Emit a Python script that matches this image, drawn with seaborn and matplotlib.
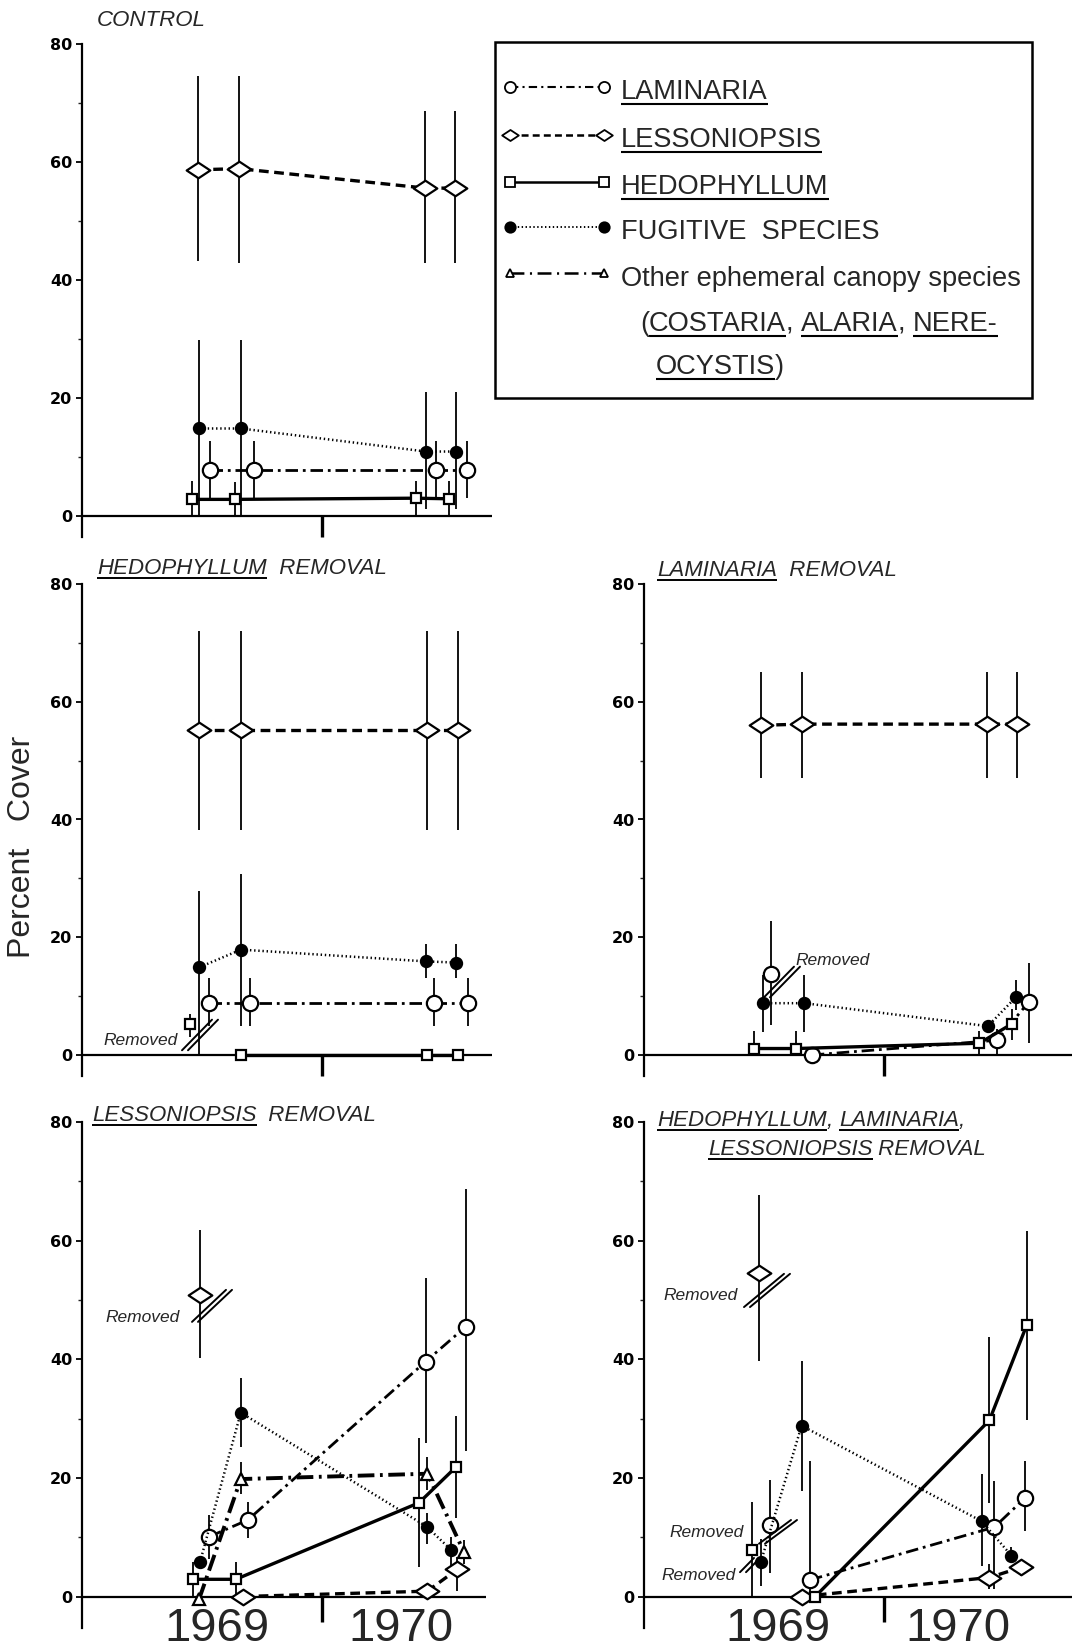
import matplotlib
matplotlib.use("Agg")
import matplotlib.pyplot as plt
from matplotlib.path import Path
from matplotlib.patches import Rectangle
import pandas as pd
import seaborn as sns

# ===================== DATA =====================
# x = months since 1 Jan 1969 (12 = 1 Jan 1970), y = percent cover
YEAR_LABELS = ["1969", "1970"]
YEAR_POS_LEFT = [6.75, 15.95]
YEAR_POS_RIGHT = [6.7, 15.7]
Y_TICKS = [0, 20, 40, 60, 80]
Y_MINOR = [10, 30, 50, 70]

# --- CONTROL ---
C_LAM_X = [6.42, 8.58, 17.72, 19.25]
C_LAM_Y = [7.9, 7.9, 7.9, 7.9]
C_LAM_LO = [3.2, 3.2, 3.2, 3.2]
C_LAM_HI = [12.7, 12.7, 12.7, 12.7]
C_LES_X = [5.80, 7.85, 17.17, 18.67]
C_LES_Y = [58.7, 58.9, 55.6, 55.6]
C_LES_LO = [43.2, 42.9, 43.0, 43.0]
C_LES_HI = [74.6, 74.6, 68.7, 68.7]
C_HED_X = [5.50, 7.63, 16.72, 18.33]
C_HED_Y = [2.9, 2.9, 3.1, 3.0]
C_HED_LO = [0.0, 0.0, 0.0, 0.0]
C_HED_HI = [6.0, 5.8, 6.0, 6.0]
C_FUG_X = [5.87, 7.95, 17.20, 18.70]
C_FUG_Y = [14.9, 14.9, 11.0, 11.0]
C_FUG_LO = [0.0, 0.0, 1.3, 1.2]
C_FUG_HI = [29.8, 29.8, 21.0, 21.0]

# --- HEDOPHYLLUM REMOVAL ---
HR_LES_X = [5.87, 7.95, 17.25, 18.78]
HR_LES_Y = [55.2, 55.2, 55.2, 55.2]
HR_LES_LO = [38.2, 38.2, 38.2, 38.2]
HR_LES_HI = [72.0, 72.0, 72.0, 72.0]
HR_FUG_X = [5.87, 7.95, 17.20, 18.70]
HR_FUG_Y = [14.9, 17.9, 15.9, 15.7]
HR_FUG_LO = [0.0, 4.9, 13.1, 13.1]
HR_FUG_HI = [27.8, 30.8, 18.8, 18.8]
HR_LAM_X = [6.37, 8.42, 17.58, 19.28]
HR_LAM_Y = [8.8, 8.8, 8.8, 8.8]
HR_LAM_LO = [4.9, 4.9, 4.9, 4.9]
HR_LAM_HI = [13.0, 13.0, 13.0, 13.0]
HR_HED_REM_X = [5.42]
HR_HED_REM_Y = [5.2]
HR_HED_REM_LO = [3.0]
HR_HED_REM_HI = [7.0]
HR_HED_X = [7.95, 17.25, 18.78]
HR_HED_Y = [0.0, 0.0, 0.0]

# --- LAMINARIA REMOVAL ---
LR_LES_X = [5.85, 7.92, 17.16, 18.67]
LR_LES_Y = [56.0, 56.2, 56.2, 56.2]
LR_LES_LO = [47.1, 47.1, 47.1, 47.1]
LR_LES_HI = [65.1, 65.1, 65.1, 65.1]
LR_FUG_X = [5.93, 8.02, 17.19, 18.59]
LR_FUG_Y = [8.8, 8.8, 4.9, 9.8]
LR_FUG_LO = [3.9, 3.9, 4.9, 7.7]
LR_FUG_HI = [13.6, 13.6, 4.9, 12.7]
LR_LAM_REM_X = [6.37]
LR_LAM_REM_Y = [13.8]
LR_LAM_REM_LO = [5.1]
LR_LAM_REM_HI = [22.7]
LR_LAM_X = [8.39, 17.64, 19.24]
LR_LAM_Y = [0.0, 2.5, 9.0]
LR_LAM_LO = [0.0, 0.0, 2.0]
LR_LAM_HI = [0.0, 4.5, 15.6]
LR_HED_X = [5.51, 7.58, 16.77, 18.40]
LR_HED_Y = [1.1, 1.1, 2.0, 5.3]
LR_HED_LO = [0.0, 0.0, 0.0, 2.5]
LR_HED_HI = [4.0, 4.0, 4.0, 7.8]

# --- LESSONIOPSIS REMOVAL ---
SR_LES_REM_X = [5.90]
SR_LES_REM_Y = [50.9]
SR_LES_REM_LO = [40.2]
SR_LES_REM_HI = [61.8]
SR_LES_X = [8.07, 17.27, 18.77]
SR_LES_Y = [0.0, 0.9, 4.6]
SR_LES_LO = [0.0, 0.0, 0.9]
SR_LES_HI = [0.0, 2.0, 6.7]
SR_FUG_X = [5.90, 7.94, 17.23, 18.44]
SR_FUG_Y = [5.8, 31.0, 11.8, 7.9]
SR_FUG_LO = [5.8, 25.2, 8.9, 5.0]
SR_FUG_HI = [5.8, 36.8, 14.0, 10.0]
SR_LAM_X = [6.37, 8.29, 17.18, 19.19]
SR_LAM_Y = [10.1, 12.9, 39.6, 45.5]
SR_LAM_LO = [6.4, 9.8, 25.8, 24.5]
SR_LAM_HI = [13.8, 16.0, 53.7, 68.7]
SR_HED_X = [5.53, 7.69, 16.85, 18.69]
SR_HED_Y = [2.9, 2.9, 15.8, 21.8]
SR_HED_LO = [0.0, 0.0, 4.9, 13.2]
SR_HED_HI = [5.8, 5.8, 26.7, 30.4]
SR_EPH_X = [5.85, 7.94, 17.27, 19.10]
SR_EPH_Y = [-0.5, 19.8, 20.7, 7.5]
SR_EPH_LO = [-0.5, 17.2, 18.0, 5.5]
SR_EPH_HI = [-0.5, 22.7, 23.6, 9.5]

# --- HEDOPHYLLUM, LAMINARIA, LESSONIOPSIS REMOVAL ---
AR_LES_REM_X = [5.77]
AR_LES_REM_Y = [54.5]
AR_LES_REM_LO = [39.7]
AR_LES_REM_HI = [67.7]
AR_LES_X = [7.88, 17.27, 18.85]
AR_LES_Y = [0.0, 3.2, 4.9]
AR_LES_LO = [0.0, 1.2, 3.4]
AR_LES_HI = [0.0, 5.5, 5.8]
AR_FUG_X = [5.84, 7.88, 16.88, 18.37]
AR_FUG_Y = [5.8, 28.8, 12.7, 6.9]
AR_FUG_LO = [1.8, 17.8, 5.2, 5.8]
AR_FUG_HI = [9.7, 39.7, 20.7, 8.3]
AR_LAM_REM_X = [6.28]
AR_LAM_REM_Y = [12.0]
AR_LAM_REM_LO = [4.0]
AR_LAM_REM_HI = [19.7]
AR_LAM_X = [8.30, 17.52, 19.05]
AR_LAM_Y = [2.8, 11.7, 16.6]
AR_LAM_LO = [0.0, 1.2, 11.1]
AR_LAM_HI = [22.9, 19.4, 22.8]
AR_HED_REM_X = [5.38]
AR_HED_REM_Y = [7.9]
AR_HED_REM_LO = [0.0]
AR_HED_REM_HI = [15.9]
AR_HED_X = [8.56, 17.27, 19.13]
AR_HED_Y = [0.0, 29.7, 45.7]
AR_HED_LO = [0.0, 15.7, 29.8]
AR_HED_HI = [0.0, 43.7, 61.7]

LEGEND_LABELS = ["LAMINARIA", "LESSONIOPSIS", "HEDOPHYLLUM", "FUGITIVE  SPECIES",
                 "Other ephemeral canopy species"]

# ===================== STYLE =====================
sns.set_theme(style="white")
plt.rcParams["lines.scale_dashes"] = False
plt.rcParams["font.family"] = ["Liberation Sans", "DejaVu Sans"]

W, H = 1073, 1651
fig = plt.figure(figsize=(W / 100, H / 100), dpi=100)
renderer = fig.canvas.get_renderer()

DIAMOND = Path([(-1, 0), (0, 0.66), (1, 0), (0, -0.66), (-1, 0)],
               [Path.MOVETO, Path.LINETO, Path.LINETO, Path.LINETO, Path.CLOSEPOLY])

STY = {
    "LAM": dict(marker="o", ms=11, mfc="white", ls=(0, (9, 3.5, 2, 3.5)), lw=2.0),
    "LES": dict(marker=DIAMOND, ms=17, mfc="white", ls=(0, (7, 4)), lw=2.4),
    "HED": dict(marker="s", ms=7.5, mfc="white", ls="-", lw=2.4),
    "FUG": dict(marker="o", ms=8, mfc="black", ls=(0, (1, 2)), lw=1.8),
    "EPH": dict(marker="^", ms=8.5, mfc="white", ls=(0, (12, 4, 2, 4)), lw=2.8),
}


def make_axes(left_px, top_px, zero_px, ybot, xend, div_bot, years=None):
    ppu = (zero_px - top_px) / 80.0
    bot_px = zero_px - ybot * ppu
    ax = fig.add_axes([left_px / W, (H - bot_px) / H, 428 / W, (bot_px - top_px) / H])
    ax.set_xlim(0, 21.4)
    ax.set_ylim(ybot, 80)
    ax.patch.set_alpha(0)
    for s in ["top", "right", "bottom"]:
        ax.spines[s].set_visible(False)
    ax.spines["left"].set_linewidth(1.6)
    ax.spines["left"].set_color("black")
    ax.set_xticks([])
    ax.set_yticks(Y_TICKS)
    ax.set_yticklabels([str(v) for v in Y_TICKS], fontweight="bold", fontsize=11.5,
                       family="DejaVu Sans")
    ax.set_yticks(Y_MINOR, minor=True)
    ax.tick_params(axis="y", which="major", direction="out", left=True, length=4.5,
                   width=1.3, pad=2.5, colors="black")
    ax.tick_params(axis="y", which="minor", direction="out", left=True, length=3,
                   width=1.0)
    ax.hlines(0, 0, xend, colors="black", lw=1.6, zorder=1.5, clip_on=False)
    ax.vlines(12, div_bot, 0, colors="black", lw=2.4, zorder=1.5, clip_on=False)
    if years is not None:
        yb = -(1641 - zero_px) / ppu
        for lab, xp in zip(YEAR_LABELS, years):
            ax.text(xp, yb, lab, ha="center", va="baseline", fontsize=34,
                    family="Liberation Sans", clip_on=False)
    return ax


def series(ax, key, x, y, lo=None, hi=None, line=True):
    if lo is not None:
        ax.vlines(x, lo, hi, colors="black", lw=1.3, zorder=2, clip_on=False)
    st = STY[key]
    df = pd.DataFrame({"month": x, "cover": y})
    sns.lineplot(data=df, x="month", y="cover", ax=ax, estimator=None, sort=False,
                 color="black", linestyle=st["ls"] if line else "none",
                 linewidth=st["lw"], marker=st["marker"], markersize=st["ms"],
                 markerfacecolor=st["mfc"], markeredgecolor="black",
                 markeredgewidth=1.6, zorder=3, clip_on=False)
    ax.set_xlabel("")
    ax.set_ylabel("")


def removed(ax, tx, ty, sx, sy, dx=0.75, dy=2.6, sep=0.3):
    if tx is not None:
        ax.text(tx, ty, "Removed", ha="center", va="center", fontsize=12.5,
                style="italic", family="Liberation Sans", clip_on=False)
    for off in (-sep / 2, sep / 2):
        ax.plot([sx - dx + off, sx + dx + off], [sy - dy, sy + dy], color="black",
                lw=1.4, zorder=4, clip_on=False)


# ---------- CONTROL ----------
ax1 = make_axes(82, 44, 516.5, -3.5, 20.5, -3.5)
series(ax1, "HED", C_HED_X, C_HED_Y, C_HED_LO, C_HED_HI)
series(ax1, "LAM", C_LAM_X, C_LAM_Y, C_LAM_LO, C_LAM_HI)
series(ax1, "FUG", C_FUG_X, C_FUG_Y, C_FUG_LO, C_FUG_HI)
series(ax1, "LES", C_LES_X, C_LES_Y, C_LES_LO, C_LES_HI)

# ---------- HEDOPHYLLUM REMOVAL ----------
ax2 = make_axes(82, 584, 1055, -3.5, 20.5, -3.5)
series(ax2, "HED", HR_HED_X, HR_HED_Y)
series(ax2, "HED", HR_HED_REM_X, HR_HED_REM_Y, HR_HED_REM_LO, HR_HED_REM_HI, line=False)
series(ax2, "LAM", HR_LAM_X, HR_LAM_Y, HR_LAM_LO, HR_LAM_HI)
series(ax2, "FUG", HR_FUG_X, HR_FUG_Y, HR_FUG_LO, HR_FUG_HI)
series(ax2, "LES", HR_LES_X, HR_LES_Y, HR_LES_LO, HR_LES_HI)
removed(ax2, 2.95, 2.4, 5.9, 3.4)

# ---------- LAMINARIA REMOVAL ----------
ax3 = make_axes(644, 584, 1055, -3.5, 21.4, -3.5)
series(ax3, "LAM", LR_LAM_X, LR_LAM_Y, LR_LAM_LO, LR_LAM_HI)
series(ax3, "LAM", LR_LAM_REM_X, LR_LAM_REM_Y, LR_LAM_REM_LO, LR_LAM_REM_HI, line=False)
series(ax3, "HED", LR_HED_X, LR_HED_Y, LR_HED_LO, LR_HED_HI)
series(ax3, "FUG", LR_FUG_X, LR_FUG_Y, LR_FUG_LO, LR_FUG_HI)
series(ax3, "LES", LR_LES_X, LR_LES_Y, LR_LES_LO, LR_LES_HI)
removed(ax3, 9.45, 16.0, 6.9, 12.4)

# ---------- LESSONIOPSIS REMOVAL ----------
ax4 = make_axes(82, 1122, 1596.5, -5.3, 20.2, -4.3, YEAR_POS_LEFT)
series(ax4, "LES", SR_LES_X, SR_LES_Y, SR_LES_LO, SR_LES_HI)
series(ax4, "LES", SR_LES_REM_X, SR_LES_REM_Y, SR_LES_REM_LO, SR_LES_REM_HI, line=False)
series(ax4, "HED", SR_HED_X, SR_HED_Y, SR_HED_LO, SR_HED_HI)
series(ax4, "EPH", SR_EPH_X, SR_EPH_Y, SR_EPH_LO, SR_EPH_HI)
series(ax4, "LAM", SR_LAM_X, SR_LAM_Y, SR_LAM_LO, SR_LAM_HI)
series(ax4, "FUG", SR_FUG_X, SR_FUG_Y, SR_FUG_LO, SR_FUG_HI)
removed(ax4, 3.05, 47.1, 6.5, 49.0, dx=0.85, dy=2.7)

# ---------- ALL THREE REMOVAL ----------
ax5 = make_axes(644, 1122, 1596.5, -5.3, 21.4, -4.3, YEAR_POS_RIGHT)
series(ax5, "LES", AR_LES_X, AR_LES_Y, AR_LES_LO, AR_LES_HI)
series(ax5, "LES", AR_LES_REM_X, AR_LES_REM_Y, AR_LES_REM_LO, AR_LES_REM_HI, line=False)
series(ax5, "LAM", AR_LAM_X, AR_LAM_Y, AR_LAM_LO, AR_LAM_HI)
series(ax5, "LAM", AR_LAM_REM_X, AR_LAM_REM_Y, AR_LAM_REM_LO, AR_LAM_REM_HI, line=False)
series(ax5, "HED", AR_HED_X, AR_HED_Y, AR_HED_LO, AR_HED_HI)
series(ax5, "HED", AR_HED_REM_X, AR_HED_REM_Y, AR_HED_REM_LO, AR_HED_REM_HI, line=False)
series(ax5, "FUG", AR_FUG_X, AR_FUG_Y, AR_FUG_LO, AR_FUG_HI)
removed(ax5, 2.85, 50.7, 6.15, 51.6, dx=1.0, dy=2.8)
removed(ax5, 3.15, 10.8, 6.7, 10.9, dx=0.8, dy=2.0)
removed(ax5, 2.75, 3.6, 5.3, 5.3, dx=0.35, dy=1.2)

# ===================== OVERLAY (titles, legend, y label) =====================
ov = fig.add_axes([0, 0, 1, 1])
ov.set_xlim(0, W)
ov.set_ylim(H, 0)
ov.axis("off")
ov.patch.set_alpha(0)


def runs(x, y, parts, ul_off=4.5, ul_lw=1.4, **fkw):
    for s, ul in parts:
        t = ov.text(x, y, s, ha="left", va="baseline", **fkw)
        w = t.get_window_extent(renderer=renderer).width
        if ul:
            ov.plot([x, x + w], [y + ul_off, y + ul_off], color="black", lw=ul_lw,
                    solid_capstyle="butt")
        x += w


TFONT = dict(fontsize=16, style="italic", family="Liberation Sans")
runs(97, 26, [("CONTROL", False)], **TFONT)
runs(97, 574, [("HEDOPHYLLUM", True), ("  REMOVAL", False)], **TFONT)
runs(657, 576, [("LAMINARIA", True), ("  REMOVAL", False)], **TFONT)
runs(92, 1121, [("LESSONIOPSIS", True), ("  REMOVAL", False)], **TFONT)
runs(657, 1126, [("HEDOPHYLLUM", True), (", ", False), ("LAMINARIA", True), (",", False)], **TFONT)
runs(708, 1155, [("LESSONIOPSIS", True), (" REMOVAL", False)], **TFONT)

ov.text(22, 847, "Percent   Cover", rotation=90, ha="center", va="center",
        fontsize=23, family="Liberation Sans")

# legend box
ov.add_patch(Rectangle((495, 42), 537, 356, fill=False, lw=1.8, edgecolor="black"))
LEG_STY = [
    ("LAM", 87, dict(marker="o", ms=8, mfc="white", ls=(0, (6, 3, 1.5, 3)), lw=1.5)),
    ("LES", 135, dict(marker=DIAMOND, ms=12, mfc="white", ls=(0, (5, 3)), lw=1.8)),
    ("HED", 182, dict(marker="s", ms=6.5, mfc="white", ls="-", lw=1.8)),
    ("FUG", 227, dict(marker="o", ms=7.5, mfc="black", ls=(0, (1, 1.8)), lw=1.4)),
    ("EPH", 273, dict(marker="^", ms=6, mfc="white", ls=(0, (10, 4, 1.5, 4)), lw=1.8)),
]
LEG_BASE = [99, 147, 194, 239, 286]
LFONT = dict(fontsize=19.6, family="Liberation Sans")
for (key, yc, st), lab, yb in zip(LEG_STY, LEGEND_LABELS, LEG_BASE):
    ov.plot([510, 604], [yc, yc], color="black", linestyle=st["ls"], lw=st["lw"],
            marker=st["marker"], ms=st["ms"], mfc=st["mfc"], mec="black", mew=1.3)
    runs(621, yb, [(lab, key in ("LAM", "LES", "HED"))], ul_off=5, ul_lw=1.5, **LFONT)
runs(640, 331, [("(", False), ("COSTARIA", True), (", ", False), ("ALARIA", True),
                (", ", False), ("NERE-", True)], ul_off=5, ul_lw=1.5, **LFONT)
runs(656, 374, [("OCYSTIS", True), (")", False)], ul_off=5, ul_lw=1.5, **LFONT)

fig.savefig("out.png", dpi=100)
